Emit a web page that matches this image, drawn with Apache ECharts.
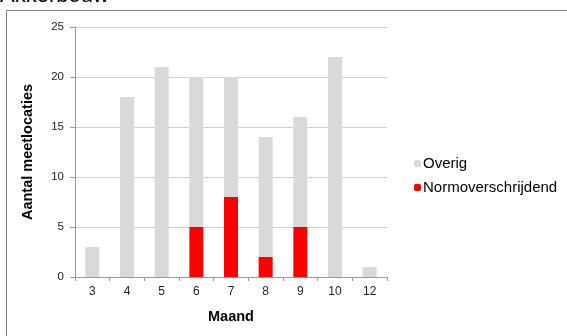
<!DOCTYPE html>
<html>
<head>
<meta charset="utf-8">
<script src="https://cdn.jsdelivr.net/npm/echarts@6/dist/echarts.min.js"></script>
<style>
  html, body { margin: 0; padding: 0; background: #fff; }
  #chart { width: 567px; height: 336px; }
</style>
</head>
<body>
<div id="chart"></div>
<script>
// Monthly counts of measuring locations (arable farming)
const months = ['3', '4', '5', '6', '7', '8', '9', '10', '12'];
const exceeding = [0, 0, 0, 5, 8, 2, 5, 0, 0];      // Normoverschrijdend
const other = [3, 18, 21, 15, 12, 12, 11, 22, 1];   // Overig
const yTicks = [0, 5, 10, 15, 20, 25];

const font = '"Liberation Sans", Arial, sans-serif';
const chart = echarts.init(document.getElementById('chart'), null, { renderer: 'canvas' });

chart.setOption({
  animation: false,
  backgroundColor: '#fff',
  textStyle: { fontFamily: font },
  graphic: [
    {
      type: 'rect', silent: true, z: -1,
      shape: { x: 6.5, y: 10.5, width: 700, height: 500 },
      style: { fill: '#fff', stroke: '#7f7f7f', lineWidth: 1 }
    },
    {
      type: 'text', left: 0, top: -15,
      style: { text: 'Akkerbouw', font: '22px ' + font, fill: '#000' }
    }
  ],
  grid: { left: 75, right: 180, top: 27, bottom: 59 },
  legend: {
    orient: 'vertical',
    left: 409, top: 151,
    itemWidth: 7, itemHeight: 7, itemGap: 9,
    data: ['Overig', 'Normoverschrijdend'],
    textStyle: { fontSize: 15, color: '#000', fontFamily: font, padding: [0, 0, 0, -3] }
  },
  xAxis: {
    type: 'category',
    data: months,
    name: 'Maand',
    nameLocation: 'middle',
    nameGap: 32,
    nameTextStyle: { fontSize: 14.5, fontWeight: 'bold', color: '#000' },
    axisLine: { lineStyle: { color: '#999' } },
    axisTick: { show: true, length: 4, lineStyle: { color: '#999' } },
    axisLabel: { fontSize: 12, color: '#222', margin: 9 }
  },
  yAxis: {
    type: 'value',
    min: yTicks[0], max: yTicks[yTicks.length - 1], interval: 5,
    name: 'Aantal meetlocaties',
    nameLocation: 'middle',
    nameGap: 40,
    nameTextStyle: { fontSize: 14.5, fontWeight: 'bold', color: '#000' },
    axisLine: { show: true, lineStyle: { color: '#999' } },
    axisTick: { show: true, length: 5, lineStyle: { color: '#999' } },
    axisLabel: { fontSize: 11.5, color: '#222', margin: 11 },
    splitLine: { lineStyle: { color: '#d0d0d0' } }
  },
  series: [
    {
      name: 'Normoverschrijdend', type: 'bar', stack: 'total',
      data: exceeding, barWidth: 14,
      itemStyle: { color: '#ff0000' }
    },
    {
      name: 'Overig', type: 'bar', stack: 'total',
      data: other, barWidth: 14,
      itemStyle: { color: '#d9d9d9' }
    }
  ]
});
</script>
</body>
</html>
